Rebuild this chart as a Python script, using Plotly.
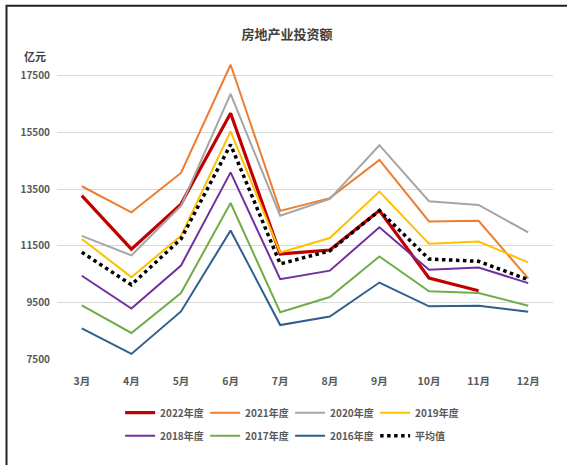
import plotly.graph_objects as go

months = ["3月", "4月", "5月", "6月", "7月", "8月", "9月", "10月", "11月", "12月"]

y2022 = [13270, 11380, 12970, 16180, 11210, 11350, 12740, 10360, 9910, None]
y2021 = [13600, 12680, 14070, 17890, 12730, 13180, 14530, 12360, 12380, 10350]
y2020 = [11850, 11160, 12910, 16860, 12560, 13150, 15050, 13070, 12940, 11970]
y2019 = [11740, 10390, 11850, 15540, 11260, 11770, 13410, 11570, 11650, 10910]
y2018 = [10440, 9280, 10800, 14090, 10320, 10620, 12150, 10650, 10730, 10180]
y2017 = [9390, 8420, 9830, 13010, 9150, 9690, 11120, 9890, 9830, 9380]
y2016 = [8580, 7680, 9180, 12040, 8700, 9000, 10200, 9360, 9380, 9170]
avg = [11270, 10120, 11740, 15070, 10860, 11320, 12740, 11030, 10950, 10300]

series = [
    ("2022年度", y2022, "#C00000", 3.2, "solid", "legend"),
    ("2021年度", y2021, "#ED7D31", 2, "solid", "legend"),
    ("2020年度", y2020, "#A5A5A5", 2, "solid", "legend"),
    ("2019年度", y2019, "#FFC000", 2, "solid", "legend"),
    ("2018年度", y2018, "#7030A0", 2, "solid", "legend2"),
    ("2017年度", y2017, "#70AD47", 2, "solid", "legend2"),
    ("2016年度", y2016, "#2E5F8E", 2, "solid", "legend2"),
    ("平均值", avg, "#000000", 3.5, "dot", "legend2"),
]

yticks = [7500, 9500, 11500, 13500, 15500, 17500]

FONT = "Noto Sans CJK SC"
fig = go.Figure()
for name, vals, color, w, dash, lg in series:
    fig.add_trace(go.Scatter(
        x=months, y=vals, name=name, mode="lines",
        line=dict(color=color, width=w, dash=dash),
        legend=lg,
    ))

legend_common = dict(
    orientation="h", xanchor="center", x=0.47, yanchor="middle",
    font=dict(family=FONT, size=10, color="#595959", weight="bold"),
    itemwidth=30, tracegroupgap=0, bgcolor="rgba(0,0,0,0)",
    entrywidth=40, entrywidthmode="pixels",
)

fig.update_layout(
    width=567, height=465,
    margin=dict(l=57, r=14, t=56, b=106),
    paper_bgcolor="white", plot_bgcolor="white",
    font=dict(family=FONT, color="#595959"),
    title=dict(text="房地产业投资额", x=0.506, xanchor="center", y=1 - 34 / 465,
               yanchor="middle",
               font=dict(family=FONT, size=13, color="#404040", weight="bold")),
    showlegend=True,
    legend=dict(y=-0.177, **legend_common),
    legend2=dict(y=-0.253, **legend_common),
    xaxis=dict(
        type="category", range=[-0.5, 9.5], showgrid=False, showline=False,
        zeroline=False, ticks="",
        tickfont=dict(family=FONT, size=10.5, color="#595959", weight="bold"),
        ticklabelstandoff=14,
    ),
    yaxis=dict(
        range=[7500, 18200], tickvals=yticks, ticktext=[str(v) for v in yticks],
        showgrid=True, gridcolor="#d9d9d9", gridwidth=1, zeroline=False,
        showline=False, ticks="",
        tickfont=dict(family=FONT, size=10, color="#595959", weight="bold"),
        ticklabelstandoff=6,
    ),
    annotations=[dict(
        text="亿元", xref="paper", yref="paper", x=-0.044, y=1.0,
        xanchor="center", yanchor="middle", showarrow=False,
        font=dict(family=FONT, size=11, color="#404040", weight="bold"),
    )],
    shapes=[dict(
        type="rect", xref="paper", yref="paper",
        x0=(6.5 - 57) / 496, x1=1.2, y0=-0.5, y1=(359.3 - 6) / 303,
        line=dict(color="#222222", width=2), fillcolor="rgba(0,0,0,0)",
        layer="above",
    )],
)

fig.write_html("out.html")
